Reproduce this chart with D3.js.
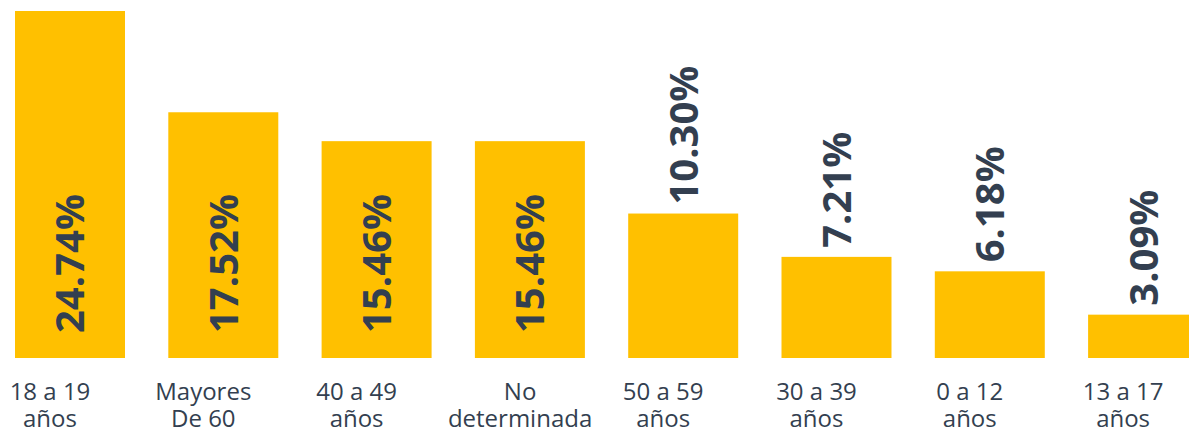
<!DOCTYPE html>
<html>
<head>
<meta charset="utf-8">
<script src="https://cdn.jsdelivr.net/npm/d3@7"></script>
<style>
  body { margin: 0; background: #fff; }
</style>
</head>
<body>
<div id="chart"></div>
<script>
// data
const categories = ["18 a 19 años", "Mayores De 60", "40 a 49 años", "No determinada",
                    "50 a 59 años", "30 a 39 años", "0 a 12 años", "13 a 17 años"]
const labelLines = [["18 a 19", "años"], ["Mayores", "De 60"], ["40 a 49", "años"], ["No", "determinada"],
                    ["50 a 59", "años"], ["30 a 39", "años"], ["0 a 12", "años"], ["13 a 17", "años"]]
const values = [24.74, 17.52, 15.46, 15.46, 10.30, 7.21, 6.18, 3.09]

const width = 1189, height = 434
const baseY = 358

const svg = d3.select("#chart")
  .append("svg")
    .attr("width", width)
    .attr("height", height)

// band scale: step ~153px, bars ~110px wide
const step = 153.3, pad = 0.2825
const x0 = 15 - step * pad / 2
const x = d3.scaleBand()
  .domain(categories)
  .range([x0, x0 + step * categories.length])
  .paddingInner(pad)
  .paddingOuter(pad / 2)

const y = d3.scaleLinear()
  .domain([0, 24.74])
  .range([baseY, 11])

// bars
svg.append("g")
  .selectAll("rect")
  .data(values)
  .join("rect")
    .attr("x", (d, i) => x(categories[i]))
    .attr("y", d => y(d))
    .attr("width", x.bandwidth())
    .attr("height", d => baseY - y(d))
    .style("fill", "#FFC000")

// value labels, rotated; big bars get them inside, small ones above
svg.append("g")
  .selectAll("text")
  .data(values)
  .join("text")
    .attr("transform", (d, i) => {
      const cx = x(categories[i]) + x.bandwidth() / 2
      const ty = i < 4 ? baseY - 25 : y(d) - 9
      return `translate(${cx},${ty}) rotate(-90)`
    })
    .attr("dy", "0.36em")
    .attr("text-anchor", "start")
    .style("font-family", "'Open Sans', sans-serif")
    .style("font-weight", "bold")
    .style("font-size", "40px")
    .style("fill", "#333F50")
    .text(d => d.toFixed(2) + "%")

// category labels, one text per line; the label block sits a bit left of the bar centre
const catG = svg.append("g")
  .style("font-family", "'Open Sans', sans-serif")
  .style("font-size", "24px")
  .style("fill", "#333F50")

labelLines.forEach((lines, i) => {
  const g = catG.append("g")
  const texts = g.selectAll("text")
    .data(lines)
    .join("text")
      .attr("text-anchor", "middle")
      .attr("y", (d, j) => 400 + j * 27)
      .text(d => d)
  const blockW = d3.max(texts.nodes(), n => n.getComputedTextLength())
  const left = x(categories[i]) - 27
  const cx = Math.max(x(categories[i]) + x.bandwidth() / 2 - 20, left + blockW / 2)
  texts.attr("x", cx)
})
</script>
</body>
</html>
